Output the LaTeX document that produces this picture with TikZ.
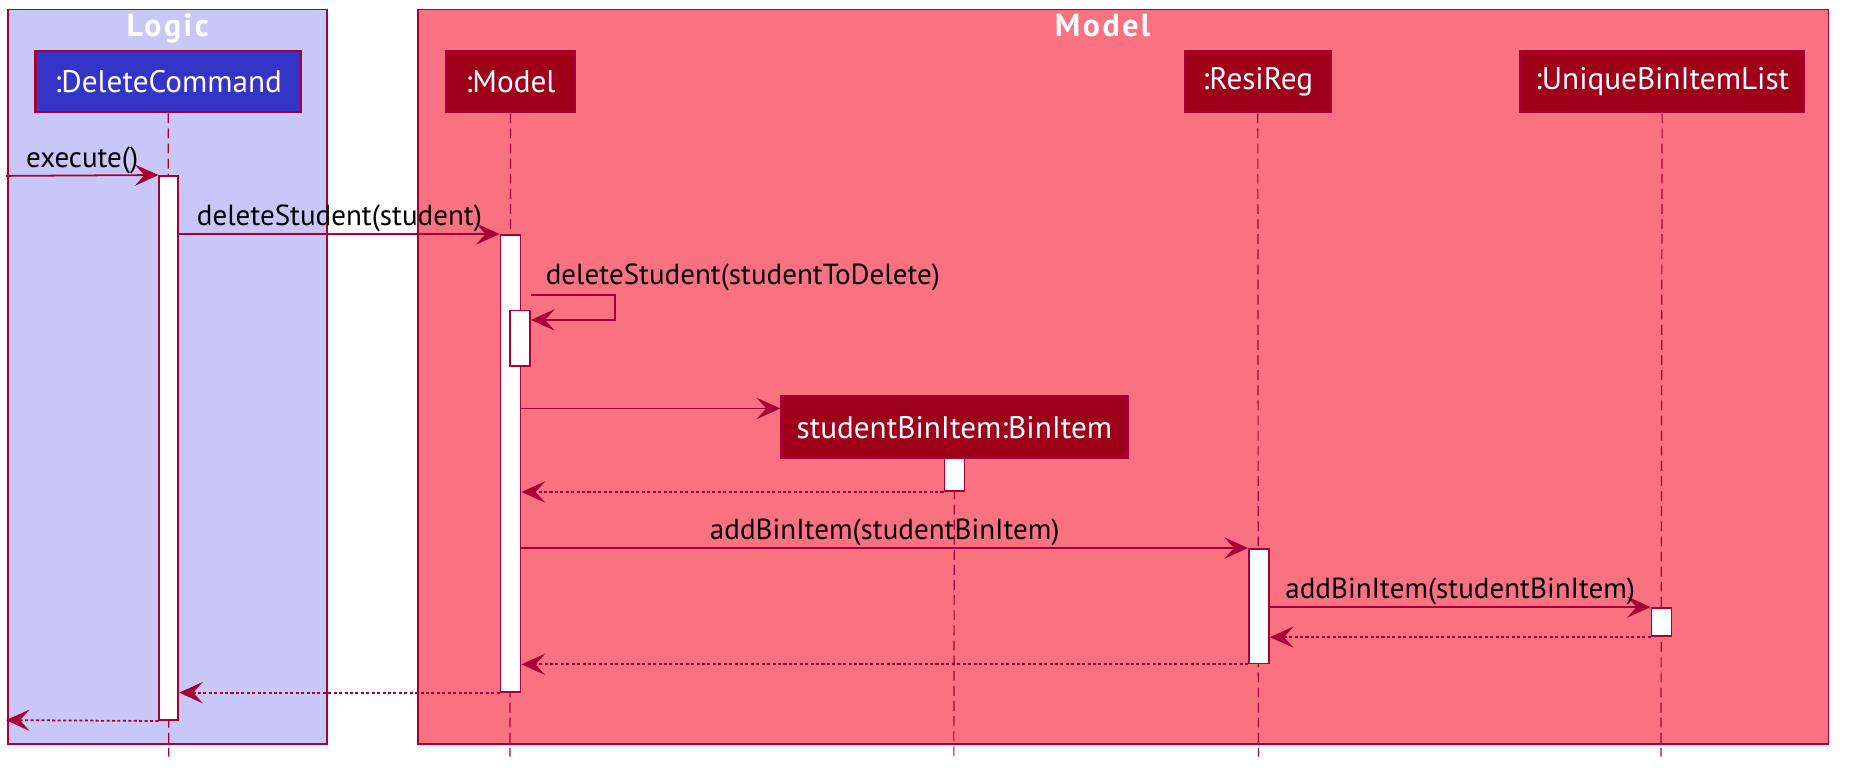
\documentclass[tikz,border=0pt]{standalone}
\usepackage{fontspec}
\setmainfont{PT Sans}
\usetikzlibrary{arrows.meta,fit}
\definecolor{crim}{HTML}{A80036}
\definecolor{logicfill}{HTML}{C8C8F8}
\definecolor{modelfill}{HTML}{FA7282}
\definecolor{dcfill}{HTML}{3434C6}
\definecolor{mfill}{HTML}{9E0019}
\tikzset{
  frame/.style={draw=crim, line width=0.75pt, inner sep=0pt},
  ftitle/.style={text=white, font=\fontsize{13.5}{16}\selectfont\bfseries\addfontfeature{LetterSpace=8}, inner sep=0pt, anchor=base},
  part/.style={draw=crim, line width=1pt, inner sep=0pt},
  ptext/.style={text=white, font=\fontsize{13.2}{15}\selectfont},
  act/.style={draw=crim, fill=white, line width=0.75pt, inner sep=0pt},
  life/.style={draw=crim, line width=0.5pt, dash pattern=on 4.2pt off 2.2pt},
  msg/.style={draw=crim, line width=0.75pt, -{Stealth[length=10pt,width=9pt,inset=4pt]}},
  ret/.style={msg, dash pattern=on 1.3pt off 1pt},
  lbl/.style={font=\fontsize{12.3}{14}\selectfont, anchor=base, yshift=3.5pt, inner sep=0pt, text=black},
}
\begin{document}
\begin{tikzpicture}[x=0.5pt,y=-0.5pt]
\useasboundingbox (0,0) rectangle (1568,659);
\fill[white] (0,0) rectangle (1568,659);
% frames
\node[frame, fill=logicfill, fit={(7,8)(277,630)}] (fLogic) {};
\node[frame, fill=modelfill, fit={(354,8)(1549,630)}] (fModel) {};
\node[ftitle] (tLogic) at (142,31) {Logic};
\node[ftitle] (tModel) at (934,31) {Model};
% participants
\node[part, fill=dcfill, fit={(30,43)(255,95)}] (pDC) {};
\node[part, fill=mfill, fit={(378,43)(487,95)}] (pM) {};
\node[part, fill=mfill, fit={(1004,43)(1127,95)}] (pR) {};
\node[part, fill=mfill, fit={(1288,43)(1528,95)}] (pU) {};
\node[part, fill=mfill, fit={(662,336)(955,388)}] (pB) {};
\node[ptext] (lDC) at (pDC.center) {:DeleteCommand};
\node[ptext] (lM) at (pM.center) {:Model};
\node[ptext] (lR) at (pR.center) {:ResiReg};
\node[ptext] (lU) at (pU.center) {:UniqueBinItemList};
\node[ptext] (lB) at (pB.center) {studentBinItem:BinItem};
% lifeline ends
\coordinate (eDC) at (143,641);
\coordinate (eM) at (432,641);
\coordinate (eR) at (1066,641);
\coordinate (eU) at (1407,641);
\coordinate (eB) at (808,641);
\draw[life] (pDC.south) -- (eDC);
\draw[life] (pM.south) -- (eM);
\draw[life] (pR.south) -- (eR);
\draw[life] (pU.south) -- (eU);
\draw[life] (pB.south) -- (eB);
% activation bars
\node[act, fit={(135,149)(151,610)}] (aDC) {};
\node[act, fit={(424,199)(441,586)}] (aM) {};
\node[act, fit={(432,263)(449,310)}] (aM2) {};
\node[act, fit={(800,388)(817,416)}] (aB) {};
\node[act, fit={(1058,465)(1075,562)}] (aR) {};
\node[act, fit={(1399,515)(1416,539)}] (aU) {};
% messages
\coordinate (cin) at (5,149);
\coordinate (cout) at (5,610);
\draw[msg] (cin) -- (aDC.north west) node[lbl, midway] {execute()};
\draw[msg] (aDC.east |- aM.north) -- (aM.north west) node[lbl, midway] {deleteStudent(student)};
\draw[msg] (aM2.east |- 0,250) -- ++(71,0) |- (aM2.east |- 0,271);
\node[lbl, anchor=base west] (lSelf) at (462,248) {deleteStudent(studentToDelete)};
\draw[msg] (aM.east |- 0,346) -- (pB.west |- 0,346);
\draw[ret] (aB.south west) -- (aM.east |- aB.south west);
\draw[msg] (aM.east |- aR.north) -- (aR.north west) node[lbl, midway] {addBinItem(studentBinItem)};
\draw[msg] (aR.east |- aU.north) -- (aU.north west) node[lbl, midway] {addBinItem(studentBinItem)};
\draw[ret] (aU.south west) -- (aR.east |- aU.south west);
\draw[ret] (aR.south west) -- (aM.east |- aR.south west);
\draw[ret] (aM.south west) -- (aDC.east |- aM.south west);
\draw[ret] (aDC.south west) -- (cout);
\end{tikzpicture}
\end{document}
